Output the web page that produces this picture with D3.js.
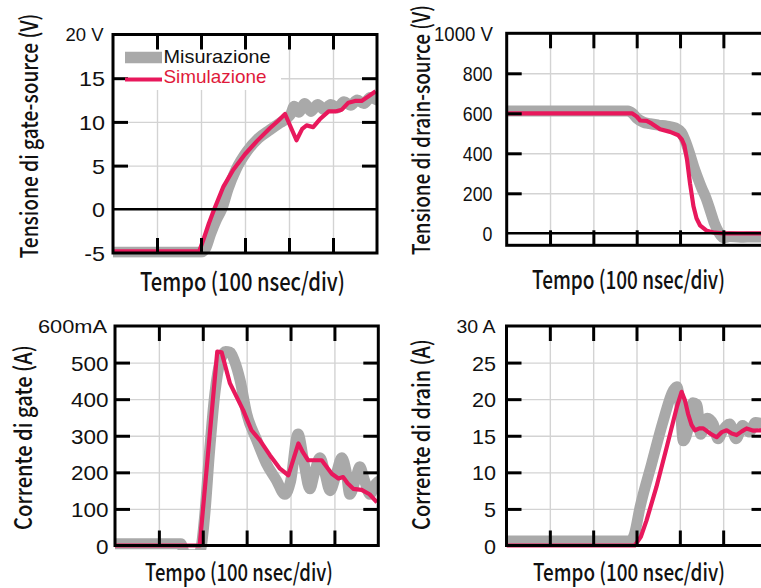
<!DOCTYPE html>
<html><head><meta charset="utf-8">
<script src="https://cdn.jsdelivr.net/npm/d3@7"></script>
<style>html,body{margin:0;padding:0;background:#fff;overflow:hidden}</style>
</head><body><svg id="chart" width="761" height="588"></svg>
<script>
// ---------------- DATA ----------------
const timeDomain = [0, 600];               // ns (6 div x 100 ns)
const timeTicks = [100, 200, 300, 400, 500];
const xTitle = "Tempo (100 nsec/div)";
const seriesNames = ["Misurazione", "Simulazione"];

// Gate-source voltage (V)
const vgsTicks = [-5, 0, 5, 10, 15, 20];
const vgsTickLabels = ["-5", "0", "5", "10", "15", "20 V"];
const vgsMeasured = [[0,-4.9],[100,-4.9],[200,-4.9],[210,-4.5],[222,-2.8],[235,-1.2],[247,0],[262,2.4],[280,4.6],[304,6.6],[330,8.1],[357,9.1],[380,9.9],[395,10.4],[404,10.9],[412,11.8],[422,11.1],[436,12.1],[450,11.2],[465,12.0],[480,11.4],[495,12.0],[510,11.6],[525,12.3],[540,11.9],[555,12.5],[570,12.1],[585,12.8],[600,12.5]];
const vgsSimulated = [[0,-4.8],[100,-4.8],[196,-4.8],[206,-3.4],[218,-1.6],[230,0],[251,2.6],[273,4.5],[300,6.3],[327,7.8],[357,9.3],[375,10.1],[391,10.9],[417,7.9],[430,9.2],[440,9.6],[455,9.4],[470,10.3],[490,11.2],[505,11.2],[520,11.4],[535,12.2],[550,12.4],[565,12.4],[580,12.9],[597,13.5]];

// Drain-source voltage (V)
const vdsTicks = [0, 200, 400, 600, 800, 1000];
const vdsTickLabels = ["0", "200", "400", "600", "800", "1000 V"];
const vdsMeasured = [[0,612],[150,612],[280,612],[290,600],[300,576],[315,556],[330,548],[350,541],[370,536],[390,526],[403,505],[412,462],[422,400],[432,330],[440,282],[450,226],[460,176],[470,112],[480,46],[490,2],[500,-22],[515,-16],[540,-20],[570,-18],[600,-20]];
const vdsSimulated = [[0,600],[150,600],[289,600],[300,584],[308,564],[323,562],[335,548],[354,520],[377,507],[396,490],[404,470],[410,440],[416,370],[423,250],[431,135],[438,75],[446,40],[462,12],[480,3],[500,0],[600,0]];

// Gate current (mA)
const igTicks = [0, 100, 200, 300, 400, 500, 600];
const igTickLabels = ["0", "100", "200", "300", "400", "500", "600mA"];
const igMeasured = [[0,5],[150,5],[160,-25],[190,-25],[197,0],[205,90],[215,250],[228,420],[240,505],[252,530],[262,528],[272,505],[285,452],[300,361],[323,288],[345,224],[368,178],[387,140],[400,175],[417,305],[430,230],[444,155],[455,200],[467,240],[478,200],[490,150],[503,190],[517,240],[527,200],[535,140],[548,180],[558,215],[568,180],[581,140],[592,165],[600,175]];
const igSimulated = [[0,0],[100,0],[193,0],[233,530],[243,528],[262,443],[292,370],[311,315],[330,288],[353,247],[376,210],[395,192],[418,279],[428,255],[440,233],[471,233],[494,196],[509,183],[520,187],[530,170],[543,155],[562,152],[580,140],[597,118]];

// Drain current (A)
const idTicks = [0, 5, 10, 15, 20, 25, 30];
const idTickLabels = ["0", "5", "10", "15", "20", "25", "30 A"];
const idMeasured = [[0,0.6],[150,0.6],[285,0.6],[295,1.5],[308,5.2],[335,11.2],[362,17.1],[385,21.2],[393,21.7],[400,19.5],[408,14.3],[420,16.2],[430,19.5],[439,19.3],[448,15.2],[463,17.4],[477,16.6],[488,14.6],[500,15.8],[515,16.6],[530,14.6],[545,16.4],[560,15.5],[575,16.8],[600,16.4]];
const idSimulated = [[0,0],[150,0],[296,0],[310,1.2],[323,3.4],[346,8.0],[370,13.5],[393,18.9],[404,21.0],[412,19.8],[419,18.0],[427,16.5],[435,15.75],[445,16.0],[454,16.0],[470,15.3],[485,14.8],[497,15.5],[508,15.75],[520,15.3],[531,15.1],[543,15.6],[554,16.0],[570,15.7],[587,15.75],[600,15.5]];

const yTitles = ["Tensione di gate-source (V)", "Tensione di drain-source (V)", "Corrente di gate (A)", "Corrente di drain (A)"];

// ---------------- LAYOUT / STYLE ----------------
const colMeas = "#a9a9a9", colSim = "#e8185c", colSimText = "#e01a3a", colGrid = "#d3d3d3";
const fontTitle = "'Noto Sans CJK JP','Noto Sans',sans-serif";
const fontTick = "'Liberation Sans',Arial,sans-serif";

const panels = [
  {ticks: vgsTicks, labels: vgsTickLabels, meas: vgsMeasured, sim: vgsSimulated, title: yTitles[0],
   xr: [113, 377], yr: [253, 34.5], tickEnd: 105, digitW: 13, top: {size: 18, len: 38, end: 103.5},
   yT: {x: 38, y: 136, len: 245, size: 24}, xT: {x: 242.5, y: 290.5, len: 205, size: 25}, legend: true},
  {ticks: vdsTicks, labels: vdsTickLabels, meas: vdsMeasured, sim: vdsSimulated, title: yTitles[1],
   yDomain: [-60, 1000],
   xr: [506.7, 766.7], yr: [245.3, 33.3], tickEnd: 492.5, digitW: 9.9, top: {size: 20, len: 59, end: 493},
   yT: {x: 430, y: 130, len: 250, size: 24}, xT: {x: 628.5, y: 288.5, len: 193, size: 25}},
  {ticks: igTicks, labels: igTickLabels, meas: igMeasured, sim: igSimulated, title: yTitles[2],
   xr: [115, 378.3], yr: [545.5, 326], tickEnd: 108.5, digitW: 12.5, top: {size: 19, len: 69, end: 107},
   yT: {x: 31.5, y: 437.5, len: 185, size: 24}, xT: {x: 239, y: 581, len: 188, size: 24}},
  {ticks: idTicks, labels: idTickLabels, meas: idMeasured, sim: idSimulated, title: yTitles[3],
   xr: [506.5, 766.5], yr: [545.5, 326], tickEnd: 496, digitW: 12, top: {size: 18, len: 39, end: 495.5},
   yT: {x: 430, y: 434.5, len: 191, size: 24}, xT: {x: 629, y: 581, len: 192, size: 24}}
];

const svg = d3.select("#chart");
svg.append("rect").attr("width", 761).attr("height", 588).attr("fill", "#fff");

function labelLen(s, d) {
  let w = 0;
  for (const c of s) w += (c === "-") ? 0.6 * d : d;
  return w;
}
// squeeze a text horizontally (in its own frame) to a target width
function fitText(sel, base, target) {
  const natural = sel.node().getComputedTextLength();
  const sx = target / natural;
  sel.attr("transform", base + ` scale(${sx},1)`);
}

panels.forEach((p, i) => {
  const yDom = p.yDomain || [p.ticks[0], p.ticks[p.ticks.length - 1]];
  const x = d3.scaleLinear().domain(timeDomain).range(p.xr);
  const y = d3.scaleLinear().domain(yDom).range(p.yr);
  const L = p.xr[0], R = p.xr[1], T = y(yDom[1]), B = y(yDom[0]);
  const inner = p.ticks.filter(v => v !== 0 && v > yDom[0] && v < yDom[1]);
  const g = svg.append("g");

  // gridlines via axes
  g.append("g").attr("transform", `translate(0,${T})`)
    .call(d3.axisBottom(x).tickValues(timeTicks).tickSize(B - T).tickFormat(""))
    .call(a => { a.select(".domain").remove(); a.selectAll("line").attr("stroke", colGrid).attr("stroke-width", 1.4); });
  g.append("g").attr("transform", `translate(${L},0)`)
    .call(d3.axisRight(y).tickValues(inner).tickSize(R - L).tickFormat(""))
    .call(a => { a.select(".domain").remove(); a.selectAll("line").attr("stroke", colGrid).attr("stroke-width", 1.4); });

  // legend background
  if (p.legend) {
    g.append("rect").attr("x", 117).attr("y", 47).attr("width", 164).attr("height", 43).attr("fill", "#fff");
  }

  // clip
  const cid = "clip" + i;
  svg.append("clipPath").attr("id", cid).append("rect")
    .attr("x", L).attr("y", T).attr("width", R - L).attr("height", B - T + 4.5);
  const line = d3.line().x(d => x(d[0])).y(d => y(d[1]));
  const dg = g.append("g").attr("clip-path", `url(#${cid})`);
  dg.append("path").datum(p.meas).attr("d", line.curve(d3.curveMonotoneX))
    .attr("fill", "none").attr("stroke", colMeas).attr("stroke-width", 11)
    .attr("stroke-linejoin", "round").attr("stroke-linecap", "round");
  dg.append("path").datum(p.sim).attr("d", line.curve(d3.curveLinear))
    .attr("fill", "none").attr("stroke", colSim).attr("stroke-width", 4.2)
    .attr("stroke-linejoin", "round");

  // zero line (bold)
  if (yDom[0] < 0) {
    g.append("line").attr("x1", L).attr("x2", R).attr("y1", y(0)).attr("y2", y(0))
      .attr("stroke", "#000").attr("stroke-width", 2.6);
  }

  // frame
  g.append("rect").attr("x", L).attr("y", T).attr("width", R - L).attr("height", B - T)
    .attr("fill", "none").attr("stroke", "#000").attr("stroke-width", 3);

  // inward ticks via axes
  const tk = a => { a.select(".domain").remove(); a.selectAll("line").attr("stroke", "#000").attr("stroke-width", 3); };
  g.append("g").attr("transform", `translate(0,${T})`).call(d3.axisBottom(x).tickValues(timeTicks).tickSize(15).tickFormat("")).call(tk);
  g.append("g").attr("transform", `translate(0,${B})`).call(d3.axisTop(x).tickValues(timeTicks).tickSize(15).tickFormat("")).call(tk);
  g.append("g").attr("transform", `translate(${L},0)`).call(d3.axisRight(y).tickValues(inner).tickSize(15).tickFormat("")).call(tk);
  g.append("g").attr("transform", `translate(${R},0)`).call(d3.axisLeft(y).tickValues(inner).tickSize(15).tickFormat("")).call(tk);

  // tick labels
  const lastIdx = p.ticks.length - 1;
  const labAxis = g.append("g").attr("transform", `translate(${p.tickEnd},0)`)
    .call(d3.axisLeft(y).tickValues(p.ticks).tickSize(0).tickPadding(0).tickFormat((d, k) => p.labels[k]));
  labAxis.select(".domain").remove();
  labAxis.selectAll("text").each(function(d, k) {
    const t = d3.select(this);
    t.attr("fill", "#111").attr("font-family", fontTick).attr("dy", "0.36em").attr("lengthAdjust", "spacingAndGlyphs");
    if (k === lastIdx) {
      t.attr("font-size", p.top.size).attr("x", p.top.end - p.tickEnd).attr("textLength", p.top.len);
    } else {
      t.attr("font-size", 21).attr("textLength", labelLen(p.labels[k], p.digitW));
    }
  });

  // axis titles (condensed to the reference widths)
  const yt = g.append("text").attr("text-anchor", "middle").attr("font-family", fontTitle)
    .attr("font-size", p.yT.size).attr("font-weight", 500).attr("fill", "#111").text(p.title);
  fitText(yt, `translate(${p.yT.x},${p.yT.y}) rotate(-90)`, p.yT.len);
  const xt = g.append("text").attr("text-anchor", "middle").attr("font-family", fontTitle)
    .attr("font-size", p.xT.size).attr("font-weight", 500).attr("fill", "#111").text(xTitle);
  fitText(xt, `translate(${p.xT.x},${p.xT.y})`, p.xT.len);

  // legend
  if (p.legend) {
    const lg = g.append("g");
    lg.append("line").attr("x1", 125).attr("x2", 162).attr("y1", 57.5).attr("y2", 57.5)
      .attr("stroke", colMeas).attr("stroke-width", 11.5);
    lg.append("line").attr("x1", 125).attr("x2", 162).attr("y1", 79.5).attr("y2", 79.5)
      .attr("stroke", colSim).attr("stroke-width", 4);
    const t1 = lg.append("text").attr("font-family", fontTick).attr("font-size", 17.8)
      .attr("fill", "#111").text(seriesNames[0]);
    fitText(t1, `translate(163.5,62.5)`, 107);
    const t2 = lg.append("text").attr("font-family", fontTick).attr("font-size", 17.8)
      .attr("fill", colSimText).text(seriesNames[1]);
    fitText(t2, `translate(163.5,83.2)`, 103);
  }
});
</script>
</body></html>
